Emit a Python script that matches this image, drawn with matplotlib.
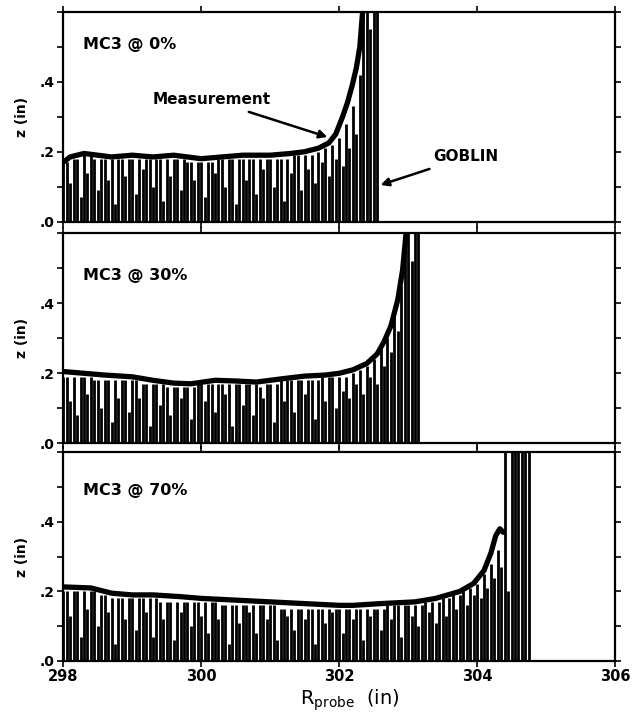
import numpy as np
import matplotlib
matplotlib.use("Agg")
import matplotlib.pyplot as plt
from matplotlib.ticker import FixedLocator, FixedFormatter

# ---------------- data ----------------
panel_labels = ["MC3 @ 0%", "MC3 @ 30%", "MC3 @ 70%"]
x_ticks = [298, 300, 302, 304, 306]
x_tick_labels = ["298", "300", "302", "304", "306"]
y_ticks = [0.0, 0.1, 0.2, 0.3, 0.4, 0.5, 0.6]
y_tick_labels = [".0", "", ".2", "", ".4", "", ""]

# Measurement curves (R in inches, z in inches)
meas_r_0 = [298.0, 298.1, 298.3, 298.5, 298.7, 299.0, 299.3, 299.6, 300.0, 300.3,
            300.6, 301.0, 301.3, 301.5, 301.7, 301.85, 301.95, 302.05, 302.12,
            302.19, 302.25, 302.30, 302.34]
meas_z_0 = [0.17, 0.185, 0.195, 0.19, 0.185, 0.19, 0.185, 0.19, 0.18, 0.185,
            0.19, 0.19, 0.195, 0.20, 0.21, 0.225, 0.25, 0.30, 0.34,
            0.39, 0.44, 0.50, 0.60]

meas_r_30 = [298.0, 298.3, 298.6, 299.0, 299.3, 299.6, 299.85, 300.2, 300.5, 300.8,
             301.2, 301.5, 301.8, 302.0, 302.2, 302.4, 302.55, 302.65, 302.75,
             302.85, 302.92, 302.97]
meas_z_30 = [0.205, 0.20, 0.195, 0.19, 0.18, 0.172, 0.17, 0.18, 0.178, 0.175,
             0.185, 0.192, 0.195, 0.20, 0.21, 0.228, 0.255, 0.29, 0.335,
             0.41, 0.495, 0.60]

meas_r_70 = [298.0, 298.4, 298.7, 299.0, 299.3, 299.7, 300.0, 300.5, 301.0, 301.5,
             302.0, 302.2, 302.6, 303.1, 303.4, 303.75, 303.95, 304.1, 304.2,
             304.27, 304.33, 304.38]
meas_z_70 = [0.213, 0.21, 0.195, 0.19, 0.19, 0.185, 0.18, 0.175, 0.17, 0.165,
             0.16, 0.16, 0.165, 0.17, 0.18, 0.20, 0.223, 0.26, 0.31,
             0.36, 0.38, 0.37]

# GOBLIN ray heights, one every 0.05 in starting at R = 298.00
goblin_start = 298.0
goblin_step = 0.05
goblin_z_0 = [
    0.17, 0.17, 0.11, 0.18, 0.18, 0.07, 0.19, 0.14, 0.19, 0.18,
    0.09, 0.18, 0.18, 0.12, 0.18, 0.05, 0.18, 0.18, 0.13, 0.18,
    0.18, 0.08, 0.18, 0.15, 0.18, 0.18, 0.10, 0.18, 0.18, 0.06,
    0.18, 0.13, 0.18, 0.18, 0.09, 0.18, 0.17, 0.17, 0.12, 0.17,
    0.17, 0.07, 0.17, 0.17, 0.14, 0.18, 0.18, 0.10, 0.18, 0.18,
    0.05, 0.18, 0.18, 0.12, 0.18, 0.18, 0.08, 0.18, 0.15, 0.18,
    0.18, 0.10, 0.18, 0.18, 0.06, 0.18, 0.14, 0.19, 0.19, 0.09,
    0.19, 0.15, 0.19, 0.11, 0.20, 0.17, 0.21, 0.13, 0.22, 0.18,
    0.24, 0.16, 0.28, 0.21, 0.33, 0.25, 0.42, 0.60, 0.60, 0.55,
    0.60, 0.60]
goblin_z_30 = [
    0.19, 0.19, 0.12, 0.19, 0.08, 0.19, 0.19, 0.14, 0.19, 0.18,
    0.18, 0.10, 0.18, 0.18, 0.06, 0.18, 0.13, 0.18, 0.18, 0.09,
    0.18, 0.18, 0.13, 0.17, 0.17, 0.05, 0.17, 0.17, 0.11, 0.17,
    0.16, 0.08, 0.16, 0.16, 0.13, 0.16, 0.16, 0.07, 0.16, 0.17,
    0.17, 0.12, 0.17, 0.17, 0.09, 0.17, 0.17, 0.14, 0.17, 0.05,
    0.17, 0.17, 0.11, 0.17, 0.17, 0.08, 0.17, 0.16, 0.13, 0.17,
    0.17, 0.06, 0.17, 0.18, 0.12, 0.18, 0.18, 0.09, 0.18, 0.18,
    0.14, 0.18, 0.18, 0.07, 0.18, 0.19, 0.12, 0.19, 0.19, 0.10,
    0.19, 0.15, 0.19, 0.13, 0.20, 0.17, 0.21, 0.14, 0.22, 0.19,
    0.24, 0.17, 0.27, 0.22, 0.30, 0.26, 0.36, 0.32, 0.45, 0.60,
    0.60, 0.52, 0.60, 0.60]
goblin_z_70 = [
    0.20, 0.20, 0.13, 0.20, 0.20, 0.07, 0.20, 0.15, 0.20, 0.20,
    0.10, 0.19, 0.19, 0.14, 0.18, 0.05, 0.18, 0.18, 0.12, 0.18,
    0.18, 0.09, 0.18, 0.18, 0.14, 0.18, 0.07, 0.18, 0.17, 0.12,
    0.17, 0.17, 0.06, 0.17, 0.14, 0.17, 0.17, 0.10, 0.17, 0.17,
    0.13, 0.17, 0.08, 0.17, 0.17, 0.12, 0.16, 0.16, 0.05, 0.16,
    0.16, 0.11, 0.16, 0.16, 0.14, 0.16, 0.08, 0.16, 0.16, 0.12,
    0.16, 0.16, 0.06, 0.15, 0.15, 0.13, 0.15, 0.09, 0.15, 0.15,
    0.12, 0.15, 0.15, 0.05, 0.15, 0.15, 0.11, 0.15, 0.14, 0.15,
    0.15, 0.08, 0.15, 0.15, 0.12, 0.15, 0.15, 0.06, 0.15, 0.13,
    0.15, 0.15, 0.09, 0.15, 0.16, 0.12, 0.16, 0.16, 0.07, 0.16,
    0.16, 0.13, 0.16, 0.10, 0.16, 0.17, 0.14, 0.17, 0.11, 0.17,
    0.18, 0.13, 0.18, 0.19, 0.15, 0.19, 0.20, 0.16, 0.21, 0.19,
    0.22, 0.18, 0.25, 0.21, 0.28, 0.24, 0.32, 0.27, 0.60, 0.20,
    0.60, 0.60, 0.60, 0.60, 0.60, 0.60]

panels = [
    (panel_labels[0], meas_r_0, meas_z_0, goblin_z_0, 0.505),
    (panel_labels[1], meas_r_30, meas_z_30, goblin_z_30, 0.48),
    (panel_labels[2], meas_r_70, meas_z_70, goblin_z_70, 0.49),
]

# ---------------- figure ----------------
W, H = 641, 716
fig = plt.figure(figsize=(W / 100, H / 100), dpi=100)
plt.rcParams['font.family'] = ['DejaVu Sans']

# axes boxes in pixels: (top, bottom)
left_px, right_px = 63.3, 615.0
boxes = [(11.7, 221.7), (233.3, 443.3), (452.3, 661.0)]

axes = []
for i, ((top, bot), (lab, mr, mz, gz, lab_z)) in enumerate(zip(boxes, panels)):
    ax = fig.add_axes([left_px / W, 1 - bot / H, (right_px - left_px) / W, (bot - top) / H])
    axes.append(ax)
    gr = goblin_start + goblin_step * np.arange(len(gz))
    ax.vlines(gr, 0, gz, color='black', lw=2.0)
    ax.plot(mr, mz, color='black', lw=3.8, solid_capstyle='round', solid_joinstyle='round')
    ax.set_xlim(298, 306)
    ax.set_ylim(0, 0.6)
    ax.xaxis.set_major_locator(FixedLocator(x_ticks))
    ax.yaxis.set_major_locator(FixedLocator(y_ticks))
    ax.yaxis.set_major_formatter(FixedFormatter(y_tick_labels))
    ax.tick_params(direction='out', length=4, width=1.2, top=True, right=True,
                   labelsize=10, pad=2)
    for lbl in ax.get_yticklabels():
        lbl.set_fontweight('bold')
    if i < 2:
        ax.tick_params(labelbottom=False)
    else:
        ax.xaxis.set_major_formatter(FixedFormatter(x_tick_labels))
        ax.tick_params(axis='x', labelsize=10.5, pad=2)
        for lbl in ax.get_xticklabels():
            lbl.set_fontweight('bold')
    for sp in ax.spines.values():
        sp.set_linewidth(1.6)
    ax.set_ylabel("z (in)", fontsize=10, fontweight='bold', labelpad=8)
    ax.text(298.29, lab_z, lab, fontsize=11.5, fontweight='bold', va='center', ha='left')

# annotations on the top panel
ax0 = axes[0]
ax0.annotate("Measurement", xy=(301.83, 0.242), xytext=(299.29, 0.348),
             fontsize=11, fontweight='bold', va='center', ha='left',
             arrowprops=dict(arrowstyle='-|>', color='black', lw=1.8,
                             mutation_scale=12, shrinkA=4, shrinkB=0))
ax0.annotate("GOBLIN", xy=(302.60, 0.105), xytext=(303.37, 0.185),
             fontsize=11, fontweight='bold', va='center', ha='left',
             arrowprops=dict(arrowstyle='-|>', color='black', lw=1.8,
                             mutation_scale=12, shrinkA=4, shrinkB=0))

fig.text(350 / W, 1 - 700 / H, r"R$_{\mathregular{probe}}$  (in)", fontsize=14,
         ha='center', va='center')

fig.savefig("out.png", dpi=100)
